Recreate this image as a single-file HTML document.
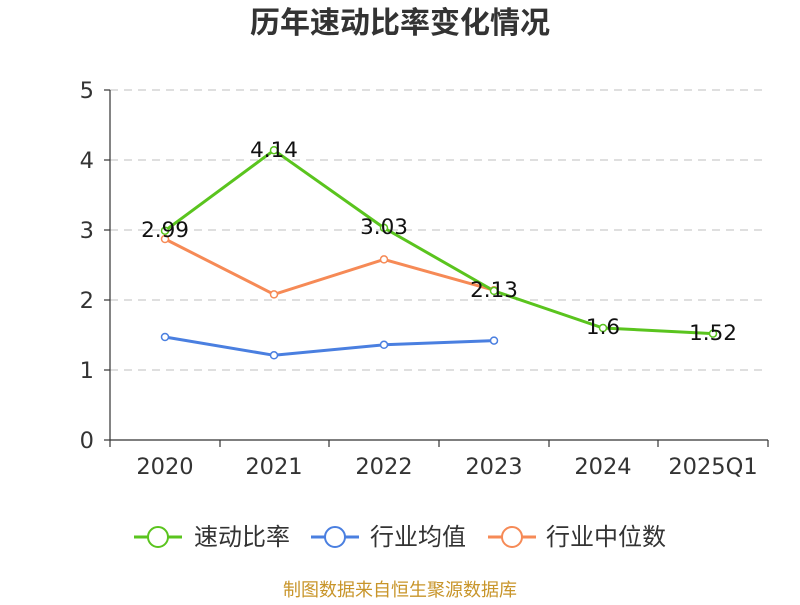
<!DOCTYPE html>
<html><head><meta charset="utf-8"><style>
body{margin:0;background:#fff;}
svg text{font-family:"DejaVu Sans","Noto Sans CJK SC",sans-serif;}
</style></head><body>
<svg width="800" height="600" xmlns="http://www.w3.org/2000/svg">
<text x="400" y="33" text-anchor="middle" font-size="30" font-weight="bold" fill="#333">历年速动比率变化情况</text>
<g stroke="#ccc" stroke-dasharray="8,6" stroke-width="1.2">
<line x1="110" y1="90" x2="768" y2="90"/>
<line x1="110" y1="160" x2="768" y2="160"/>
<line x1="110" y1="230" x2="768" y2="230"/>
<line x1="110" y1="300" x2="768" y2="300"/>
<line x1="110" y1="370" x2="768" y2="370"/>
</g>
<g stroke="#333" stroke-width="1.2">
<line x1="110" y1="90" x2="110" y2="440"/>
<line x1="110" y1="440" x2="768" y2="440"/>
<line x1="104" y1="90" x2="110" y2="90"/><line x1="104" y1="160" x2="110" y2="160"/><line x1="104" y1="230" x2="110" y2="230"/><line x1="104" y1="300" x2="110" y2="300"/><line x1="104" y1="370" x2="110" y2="370"/><line x1="104" y1="440" x2="110" y2="440"/>
<line x1="110" y1="440" x2="110" y2="447"/><line x1="220" y1="440" x2="220" y2="447"/><line x1="329" y1="440" x2="329" y2="447"/><line x1="439" y1="440" x2="439" y2="447"/><line x1="549" y1="440" x2="549" y2="447"/><line x1="658" y1="440" x2="658" y2="447"/><line x1="768" y1="440" x2="768" y2="447"/>
</g>
<g font-size="22.5" fill="#333" text-anchor="end">
<text x="94" y="98">5</text><text x="94" y="168">4</text><text x="94" y="238">3</text><text x="94" y="308">2</text><text x="94" y="378">1</text><text x="94" y="448">0</text>
</g>
<g font-size="22.5" fill="#333" text-anchor="middle">
<text x="165" y="474">2020</text><text x="274" y="474">2021</text><text x="384" y="474">2022</text><text x="494" y="474">2023</text><text x="603" y="474">2024</text><text x="713" y="474">2025Q1</text>
</g>
<polyline fill="none" stroke="#f68a56" stroke-width="3" points="165,239 274,294.4 384,259.4 494,290.2"/>
<polyline fill="none" stroke="#4a7fe0" stroke-width="3" points="165,337 274,355.3 384,344.8 494,340.6"/>
<polyline fill="none" stroke="#5ac41e" stroke-width="3" points="165,230.7 274,150.2 384,227.9 494,290.9 603,328 713,333.6"/>
<g fill="#fff" stroke-width="1.5">
<g stroke="#f68a56"><circle cx="165" cy="239" r="3.5"/><circle cx="274" cy="294.4" r="3.5"/><circle cx="384" cy="259.4" r="3.5"/><circle cx="494" cy="290.2" r="3.5"/></g>
<g stroke="#4a7fe0"><circle cx="165" cy="337" r="3.5"/><circle cx="274" cy="355.3" r="3.5"/><circle cx="384" cy="344.8" r="3.5"/><circle cx="494" cy="340.6" r="3.5"/></g>
<g stroke="#5ac41e"><circle cx="165" cy="230.7" r="3.5"/><circle cx="274" cy="150.2" r="3.5"/><circle cx="384" cy="227.9" r="3.5"/><circle cx="494" cy="290.9" r="3.5"/><circle cx="603" cy="328" r="3.5"/><circle cx="713" cy="333.6" r="3.5"/></g>
</g>
<g font-size="21.5" fill="#111" text-anchor="middle">
<text x="165" y="237">2.99</text><text x="274" y="157">4.14</text><text x="384" y="234">3.03</text><text x="494" y="297">2.13</text><text x="603" y="334">1.6</text><text x="713" y="340">1.52</text>
</g>
<g font-size="24" fill="#333">
<line x1="134" y1="537" x2="182" y2="537" stroke="#5ac41e" stroke-width="3"/><circle cx="158" cy="537" r="10" fill="#fff" stroke="#5ac41e" stroke-width="2"/>
<text x="194" y="545">速动比率</text>
<line x1="311" y1="537" x2="359" y2="537" stroke="#4a7fe0" stroke-width="3"/><circle cx="335" cy="537" r="10" fill="#fff" stroke="#4a7fe0" stroke-width="2"/>
<text x="370" y="545">行业均值</text>
<line x1="488" y1="537" x2="536" y2="537" stroke="#f68a56" stroke-width="3"/><circle cx="512" cy="537" r="10" fill="#fff" stroke="#f68a56" stroke-width="2"/>
<text x="546" y="545">行业中位数</text>
</g>
<text x="400" y="596" text-anchor="middle" font-size="18" fill="#c8952a">制图数据来自恒生聚源数据库</text>
</svg>
</body></html>
